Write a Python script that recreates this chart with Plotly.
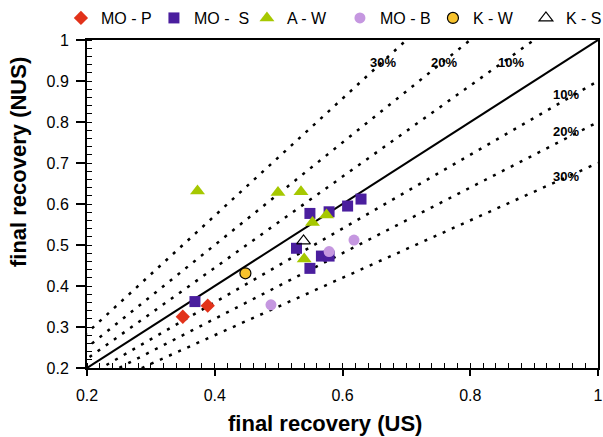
import numpy as np
import plotly.graph_objects as go

# Final recovery under uniform (US) vs non-uniform (NUS) sampling
mo_p_x = [0.350, 0.389]
mo_p_y = [0.325, 0.352]

mo_s_x = [0.369, 0.549, 0.579, 0.608, 0.629, 0.528, 0.567, 0.579, 0.549]
mo_s_y = [0.362, 0.577, 0.581, 0.595, 0.612, 0.492, 0.473, 0.473, 0.443]

a_w_x = [0.373, 0.499, 0.535, 0.553, 0.575, 0.540]
a_w_y = [0.632, 0.628, 0.630, 0.555, 0.573, 0.466]

mo_b_x = [0.488, 0.618, 0.579]
mo_b_y = [0.354, 0.512, 0.484]

k_w_x = [0.448]
k_w_y = [0.431]

k_s_x = [0.539]
k_s_y = [0.510]

# Relative deviation bands around the y = x line
band_levels = [0.1, 0.2, 0.3]
band_labels = ["10%", "20%", "30%"]

FONT = "Liberation Sans, Arial, sans-serif"

fig = go.Figure()

line_x = np.array([0.0, 1.0])
for k in band_levels:
    fig.add_trace(go.Scatter(x=line_x, y=line_x / (1 - k), mode="lines",
                             line=dict(color="black", width=2.5, dash="3px,7px"),
                             showlegend=False, hoverinfo="skip"))
    fig.add_trace(go.Scatter(x=line_x, y=line_x * (1 - k), mode="lines",
                             line=dict(color="black", width=2.5, dash="3px,7px"),
                             showlegend=False, hoverinfo="skip"))
fig.add_trace(go.Scatter(x=line_x, y=line_x, mode="lines",
                         line=dict(color="black", width=2),
                         showlegend=False, hoverinfo="skip"))

series = [
    ("MO - P", mo_p_x, mo_p_y, dict(symbol="diamond", size=11, color="#E2321A")),
    ("MO -\u00a0\u00a0S", mo_s_x, mo_s_y, dict(symbol="square", size=11, color="#4A1E9E")),
    ("A - W", a_w_x, a_w_y, dict(symbol="triangle-up", size=13, color="#A6C800")),
    ("MO - B", mo_b_x, mo_b_y, dict(symbol="circle", size=11, color="#C597E0")),
    ("K - W", k_w_x, k_w_y, dict(symbol="circle", size=11, color="#F7C22C",
                                 line=dict(color="black", width=1.2))),
    ("K - S", k_s_x, k_s_y, dict(symbol="triangle-up-open", size=12, color="black",
                                 line=dict(color="black", width=1.2))),
]
for name, xs, ys, mk in series:
    fig.add_trace(go.Scatter(x=xs, y=ys, mode="markers", name=name, marker=mk,
                             cliponaxis=False))

# Band labels
label_font = dict(family=FONT, size=13, color="black")
upper_pos = {"30%": (0.663, 0.946), "20%": (0.759, 0.946), "10%": (0.864, 0.946)}
lower_pos = {"10%": (0.950, 0.866), "20%": (0.950, 0.776), "30%": (0.950, 0.666)}
for lab in band_labels:
    for pos in (upper_pos[lab], lower_pos[lab]):
        fig.add_annotation(x=pos[0], y=pos[1], text="<b>%s</b>" % lab,
                           showarrow=False, font=label_font)

# Axis titles
title_font = dict(family=FONT, size=22, color="black")
fig.add_annotation(xref="paper", yref="paper", x=0.466, y=-0.168,
                   xanchor="center", yanchor="middle",
                   text="<b>final recovery (US)</b>", showarrow=False, font=title_font)
fig.add_annotation(xref="paper", yref="paper", x=-0.135, y=0.628, textangle=-90,
                   xanchor="center", yanchor="middle",
                   text="<b>final recovery (NUS)</b>", showarrow=False, font=title_font)

axis_common = dict(
    range=[0.2, 1], showgrid=False, zeroline=False,
    showline=True, linecolor="black", linewidth=2, mirror=True,
    ticks="outside", tickcolor="black", tickwidth=1.5,
    tickfont=dict(family=FONT, size=16, color="black"),
)
fig.update_xaxes(**axis_common, dtick=0.2, tick0=0.2, ticklen=6,
                 ticklabelstandoff=6,
                 minor=dict(dtick=0.02, ticks="inside", ticklen=5,
                            tickcolor="black", tickwidth=1.2))
fig.update_yaxes(**axis_common, dtick=0.1, tick0=0.2, ticklen=9,
                 ticklabelstandoff=4,
                 minor=dict(dtick=0.02, ticks="inside", ticklen=5,
                            tickcolor="black", tickwidth=1.2))

fig.update_layout(
    width=603, height=437,
    margin=dict(l=87, r=5, t=40, b=69, autoexpand=False),
    paper_bgcolor="white", plot_bgcolor="white",
    font=dict(family=FONT, color="black"),
    legend=dict(orientation="h", x=-0.051, xanchor="left", y=1.067, yanchor="middle",
                font=dict(family=FONT, size=16, color="black"),
                entrywidth=48, entrywidthmode="pixels",
                itemwidth=30, bgcolor="rgba(0,0,0,0)", tracegroupgap=0),
)

fig.write_html("out.html")
